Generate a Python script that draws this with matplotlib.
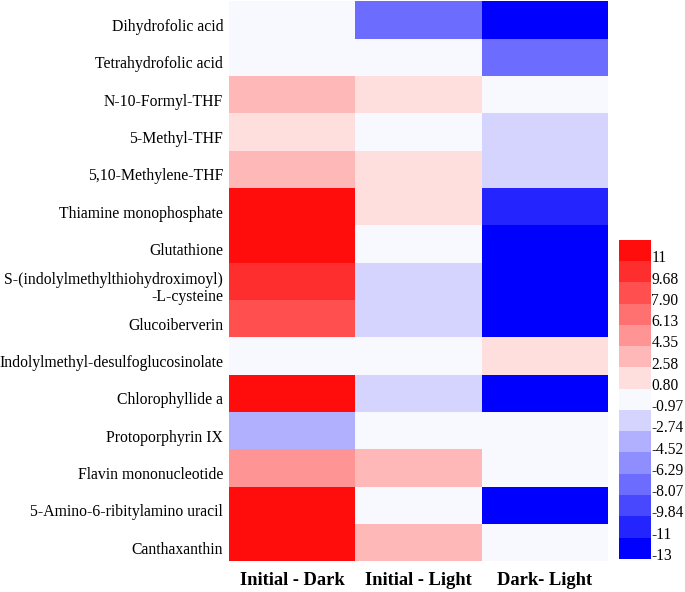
import numpy as np
import matplotlib
matplotlib.use('Agg')
import matplotlib.pyplot as plt
import matplotlib.colors as mcolors
import matplotlib.transforms as mtransforms

plt.rcParams['font.family'] = ['Liberation Serif', 'DejaVu Serif']

# metabolites (top to bottom)
metabolites = ['Dihydrofolic acid', 'Tetrahydrofolic acid', 'N-10-Formyl-THF',
               '5-Methyl-THF', '5,10-Methylene-THF', 'Thiamine monophosphate',
               'Glutathione', 'S-(indolylmethylthiohydroximoyl)\n-L-cysteine',
               'Glucoiberverin', 'Indolylmethyl-desulfoglucosinolate',
               'Chlorophyllide a', 'Protoporphyrin IX', 'Flavin mononucleotide',
               '5-Amino-6-ribitylamino uracil', 'Canthaxanthin']
comparisons = ['Initial - Dark', 'Initial - Light', 'Dark- Light']

# log2 fold changes
initial_dark = [0.0, 0.0, 3.4, 1.6, 3.4, 12.3, 12.3, 10.5, 8.8, 0.0, 12.3, -3.6, 5.2, 12.3, 12.3]
initial_light = [-7.2, 0.0, 1.6, 0.0, 1.6, 1.6, 0.0, -1.9, -1.9, 0.0, -1.9, 0.0, 3.4, 0.0, 3.4]
dark_light = [-12.5, -7.2, 0.0, -1.9, -1.9, -10.7, -12.5, -12.5, -12.5, 1.6, -12.5, 0.0, 0.0, -12.5, 0.0]

# colorbar bins
bin_edges = [-13.39, -11.615, -9.84, -8.07, -6.29, -4.52, -2.74, -0.97,
             0.80, 2.58, 4.35, 6.13, 7.90, 9.68, 11.455, 13.23]
bin_labels = ['-13', '-11', '-9.84', '-8.07', '-6.29', '-4.52', '-2.74', '-0.97',
              '0.80', '2.58', '4.35', '6.13', '7.90', '9.68', '11']
bin_colors = ['#0000FF', '#2424FF', '#4848FF', '#6C6CFF', '#8E8EFF', '#B0B0FF', '#D4D4FF',
              '#F8F8FF', '#FFDEDE', '#FFB8B8', '#FF9494', '#FF7171', '#FF4F4F', '#FF2E2E', '#FF0D0D']

values = np.array([initial_dark, initial_light, dark_light]).T

cmap = mcolors.ListedColormap(bin_colors)
norm = mcolors.BoundaryNorm(bin_edges, cmap.N)

fig = plt.figure(figsize=(6.85, 5.92), dpi=100)
ax = fig.add_axes([0.334, 0.052, 0.5536, 0.946])
mesh = ax.pcolormesh(values, cmap=cmap, norm=norm)
ax.set_xlim(0, values.shape[1])
ax.set_ylim(values.shape[0], 0)
for s in ax.spines.values():
    s.set_visible(False)

ax.set_xticks(np.arange(values.shape[1]) + 0.5)
ax.set_xticklabels(comparisons, fontsize=13.3, fontweight='bold')
ax.set_yticks(np.arange(values.shape[0]) + 0.5)
ax.set_yticklabels(metabolites, fontsize=11.3, linespacing=1.05)
ax.tick_params(length=0)
ax.tick_params(axis='x', pad=8)
ax.tick_params(axis='y', pad=4)
shift = mtransforms.ScaledTranslation(0, -5 / 100, fig.dpi_scale_trans)
for lab in ax.get_yticklabels():
    lab.set_transform(lab.get_transform() + shift)
    lab.set_multialignment('right')

cax = fig.add_axes([0.904, 0.056, 0.046, 0.539])
cb = fig.colorbar(mesh, cax=cax)
cb.outline.set_visible(False)
ticks = [e + 0.4 for e in bin_edges[:-1]]
cb.set_ticks(ticks)
cb.set_ticklabels(bin_labels)
cb.ax.minorticks_off()
cb.ax.tick_params(which='both', length=0, width=0, pad=0.5, labelsize=11.2)

plt.savefig('out.png', dpi=100)
